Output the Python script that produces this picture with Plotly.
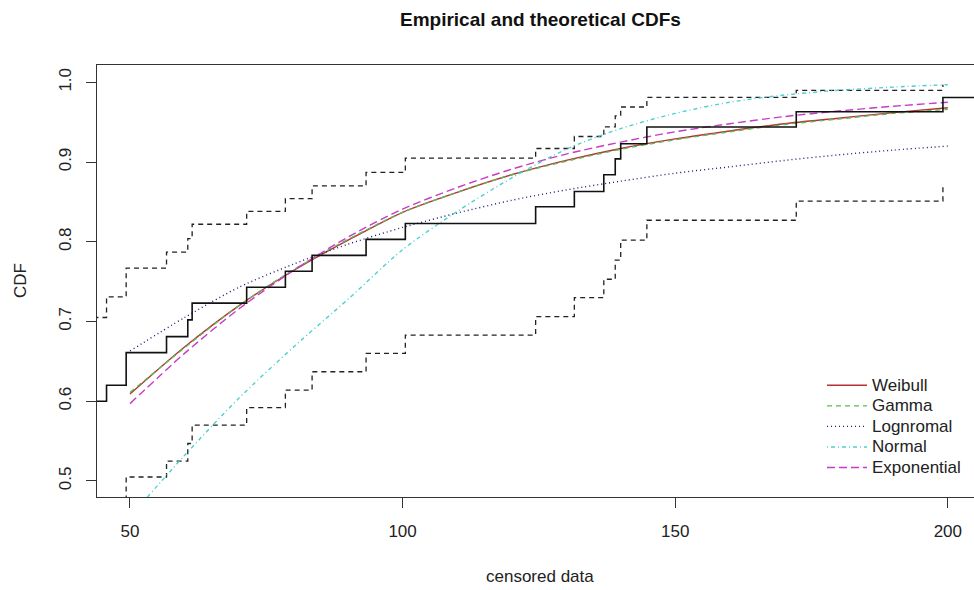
import plotly.graph_objects as go

# ---------------- data ----------------
# Empirical (censored) CDF step function: jump locations and levels
emp_x = [40.0, 45.7, 49.3, 56.7, 60.6, 61.4, 71.4, 78.5, 83.4, 93.3, 100.5,
         124.4, 131.5, 136.9, 139.0, 140.0, 144.8, 172.2, 199.1, 210.0]
emp_y = [0.600, 0.620, 0.661, 0.681, 0.702, 0.723, 0.743, 0.763, 0.783, 0.803, 0.823,
         0.844, 0.863, 0.884, 0.904, 0.923, 0.944, 0.963, 0.981, 0.981]

# Upper confidence bound
up_x = [40.0, 45.7, 49.3, 56.7, 60.6, 61.4, 71.4, 78.5, 83.4, 93.3, 100.5,
        124.4, 131.5, 136.9, 139.0, 140.0, 144.8, 172.2, 199.1]
up_y = [0.705, 0.731, 0.767, 0.787, 0.804, 0.822, 0.838, 0.854, 0.870, 0.887, 0.905,
        0.917, 0.932, 0.944, 0.958, 0.969, 0.981, 0.990, 0.997]

# Lower confidence bound
lo_x = [40.0, 49.3, 56.7, 60.6, 61.4, 71.4, 78.5, 83.4, 93.3, 100.5,
        124.4, 131.5, 136.9, 139.0, 140.0, 144.8, 172.2, 199.1]
lo_y = [0.460, 0.505, 0.525, 0.547, 0.570, 0.592, 0.614, 0.637, 0.660, 0.683,
        0.706, 0.730, 0.753, 0.777, 0.802, 0.827, 0.851, 0.871]

# Theoretical CDFs, read at these x values
fit_x = [50, 60, 70, 80, 90, 100, 110, 120, 130, 140, 150, 160, 170, 180, 190, 200]
weibull = [0.609, 0.668, 0.720, 0.764, 0.802, 0.837, 0.862, 0.884, 0.902, 0.917,
           0.929, 0.939, 0.948, 0.955, 0.962, 0.968]
gamma = [0.611, 0.667, 0.720, 0.765, 0.803, 0.837, 0.862, 0.884, 0.901, 0.916,
         0.928, 0.938, 0.947, 0.954, 0.961, 0.966]
lognormal = [0.663, 0.705, 0.743, 0.772, 0.797, 0.818, 0.836, 0.852, 0.865, 0.876,
             0.886, 0.894, 0.902, 0.909, 0.915, 0.920]
normal = [0.455, 0.532, 0.604, 0.668, 0.728, 0.790, 0.838, 0.880, 0.916, 0.942,
          0.961, 0.975, 0.984, 0.990, 0.994, 0.997]
exponential = [0.597, 0.660, 0.716, 0.764, 0.806, 0.841, 0.868, 0.891, 0.910, 0.925,
               0.938, 0.948, 0.957, 0.964, 0.970, 0.975]

fit_names = ["Weibull", "Gamma", "Lognromal", "Normal", "Exponential"]
fit_values = [weibull, gamma, lognormal, normal, exponential]
fit_colors = ["#b8302f", "#5cb85c", "#1c1c72", "#4fd0d0", "#c63cc6"]
fit_dash = ["solid", "5px,4px", "1px,3px", "1px,3px,4px,3px", "8px,4px"]

y_ticks = [0.5, 0.6, 0.7, 0.8, 0.9, 1.0]
y_ticktext = ["0.5", "0.6", "0.7", "0.8", "0.9", "1.0"]
x_ticks = [50, 100, 150, 200]

# ---------------- figure ----------------
W, H = 974, 590
L, R, T, B = 97, 0, 65, 93
FONT = "Liberation Sans, Arial, sans-serif"

fig = go.Figure()

fig.add_trace(go.Scatter(x=lo_x, y=lo_y, mode="lines", line_shape="hv",
                         line=dict(color="#222222", width=1.3, dash="5px,4px"),
                         showlegend=False, hoverinfo="skip"))
fig.add_trace(go.Scatter(x=up_x, y=up_y, mode="lines", line_shape="hv",
                         line=dict(color="#222222", width=1.3, dash="5px,4px"),
                         showlegend=False, hoverinfo="skip"))

for name, vals, col, dsh in zip(fit_names, fit_values, fit_colors, fit_dash):
    fig.add_trace(go.Scatter(x=fit_x, y=vals, mode="lines",
                             name='<span style="font-size:17px">' + name + '</span>',
                             line=dict(color=col, width=1.4, dash=dsh, shape="spline",
                                       smoothing=0.8)))

fig.add_trace(go.Scatter(x=emp_x, y=emp_y, mode="lines", line_shape="hv",
                         line=dict(color="#111111", width=1.6),
                         showlegend=False, hoverinfo="skip"))

plot_w = W - L - R
plot_h = H - T - B

def px_x(px):
    return (px - L) / plot_w

def px_y(py):
    return (H - B - py) / plot_h

fig.update_layout(
    width=W, height=H,
    margin=dict(l=L, r=R, t=T, b=B, pad=0),
    paper_bgcolor="white", plot_bgcolor="white",
    font=dict(family=FONT, size=17, color="#222222"),
    showlegend=True,
    legend=dict(x=px_x(822), y=px_y(370), xanchor="left", yanchor="top",
                bgcolor="rgba(0,0,0,0)", borderwidth=0,
                font=dict(family=FONT, size=13.5, color="#222222"),
                itemwidth=40, tracegroupgap=0),
    xaxis=dict(range=[43.95, 204.8], tickvals=x_ticks, ticks="outside", ticklen=10,
               tickwidth=1, tickcolor="#333333", showgrid=False, zeroline=False,
               showline=True, linecolor="#333333", linewidth=1.2, mirror=True,
               tickfont=dict(size=17), ticklabelstandoff=8),
    yaxis=dict(range=[0.4799, 1.0217], tickvals=y_ticks, ticktext=y_ticktext,
               ticks="outside", ticklen=10, tickwidth=1, tickcolor="#333333",
               showgrid=False, zeroline=False, showline=True, linecolor="#333333",
               linewidth=1.2, tickangle=-90, tickfont=dict(size=17),
               ticklabelstandoff=8),
    annotations=[
        dict(text="<b>Empirical and theoretical CDFs</b>", xref="paper", yref="paper",
             x=px_x(540), y=px_y(20), xanchor="center", yanchor="middle",
             showarrow=False, font=dict(family=FONT, size=19, color="#111111")),
        dict(text="censored data", xref="paper", yref="paper",
             x=px_x(540), y=px_y(576), xanchor="center", yanchor="middle",
             showarrow=False, font=dict(family=FONT, size=17, color="#222222")),
        dict(text="CDF", xref="paper", yref="paper", textangle=-90,
             x=px_x(20), y=px_y(281), xanchor="center", yanchor="middle",
             showarrow=False, font=dict(family=FONT, size=17, color="#222222")),
    ],
)

fig.write_html("out.html", config={"displayModeBar": False},
               post_script="document.body.style.margin='0px';"
                           "document.body.style.overflow='hidden';")
